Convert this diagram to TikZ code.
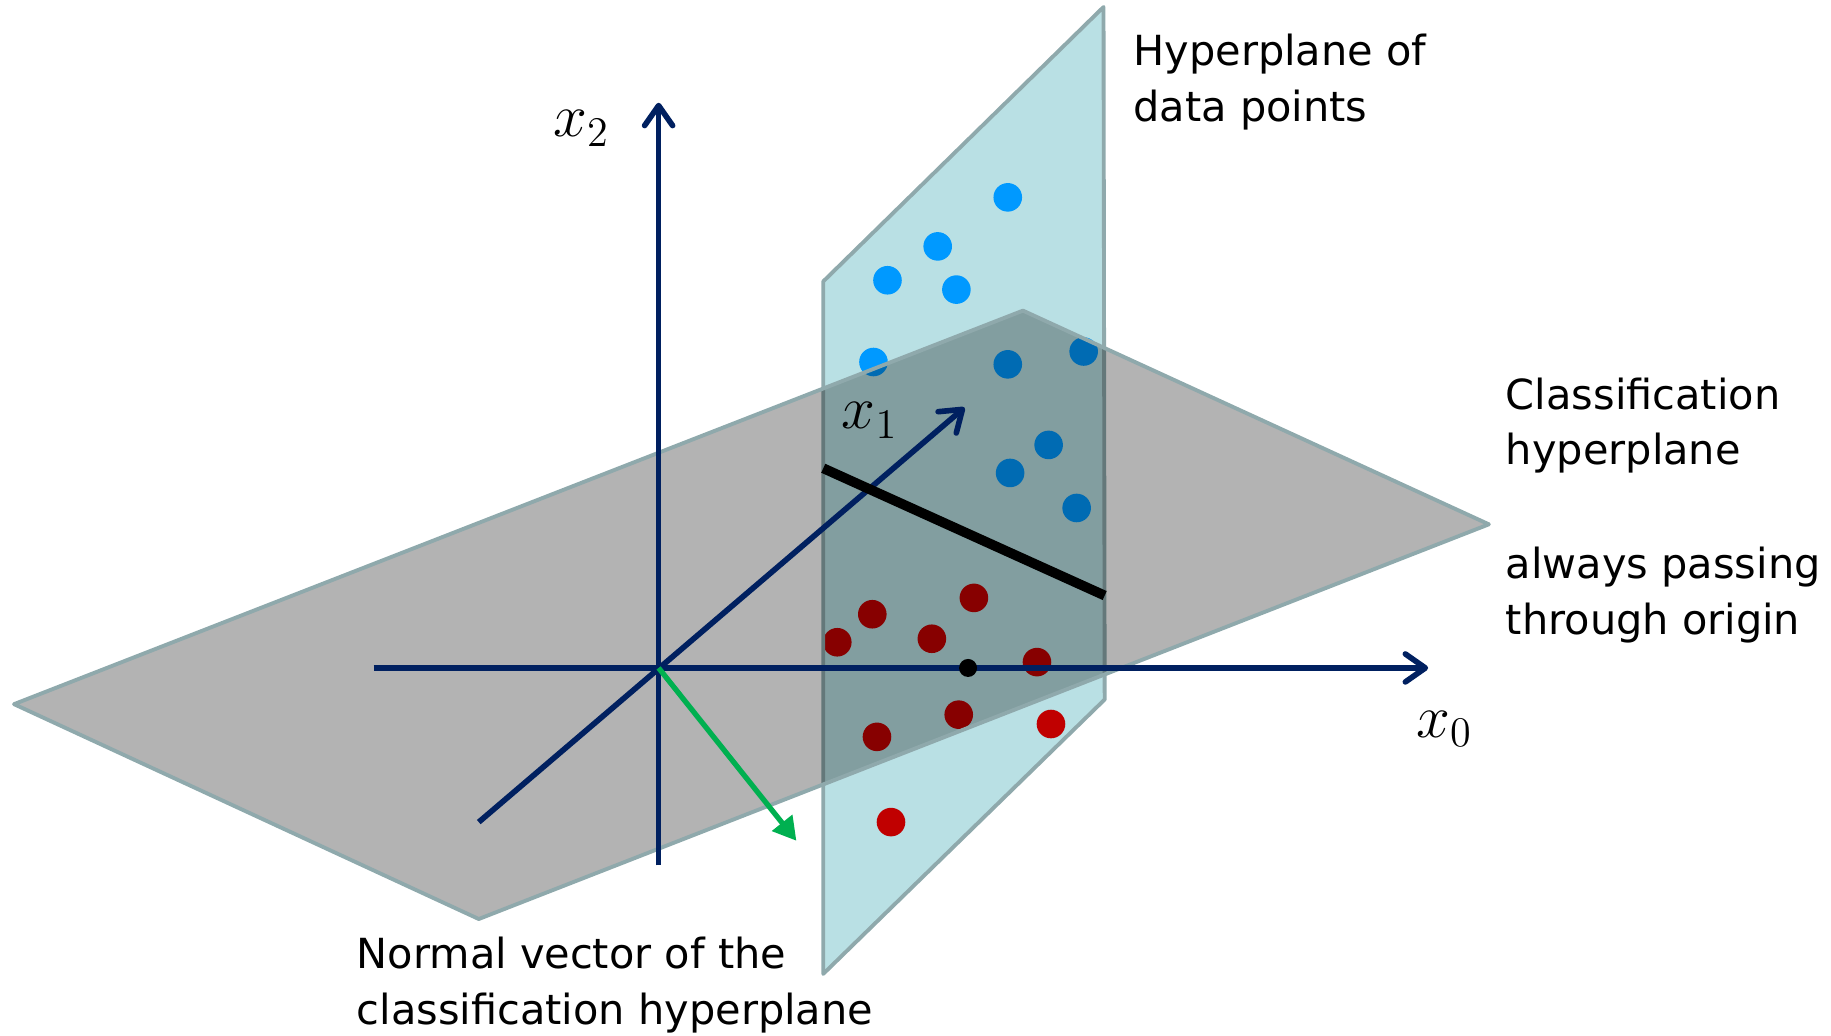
\documentclass[tikz,border=0pt]{standalone}
\usepackage{fontspec}
\setmainfont{DejaVu Sans}
\usepackage{tikz}
\usetikzlibrary{arrows.meta}

\definecolor{axisnavy}{RGB}{0,32,96}
\definecolor{planeblue}{RGB}{185,224,228}
\definecolor{planegray}{RGB}{179,179,179}
\definecolor{planeedge}{RGB}{143,169,172}
\definecolor{overlapgray}{RGB}{130,158,160}
\definecolor{overlapedge}{RGB}{100,120,122}
\definecolor{dotblue}{RGB}{0,153,255}
\definecolor{dotbluedark}{RGB}{0,107,179}
\definecolor{dotred}{RGB}{192,0,0}
\definecolor{dotreddark}{RGB}{135,0,0}
\definecolor{normalgreen}{RGB}{0,176,80}

% data points (x/y in picture units)
\newcommand{\upperdots}{863/169,803/211,760/240,819/248,748/310,863/312,928/301,898/381,865/405,922/435}
\newcommand{\lowerdots}{747/526,717/550,798/547,834/512,888/567,821/612,751/631,900/620,763/704}

\tikzset{
  plane edge/.style={draw=planeedge,line width=1.1pt,line join=round},
  axis/.style={axisnavy,line width=1.6pt},
  axis arrow/.style={axis,-{Straight Barb[length=2mm,width=2.8mm,round]}},
  normal arrow/.style={normalgreen,line width=1.5pt,-{Triangle[length=2.3mm,width=2.5mm]}},
  datadot/.style={radius=1.43mm},
  caption/.style={align=left,anchor=base west,inner sep=0pt,font=\fontsize{11.8}{15.8}\selectfont},
  axis label/.style={font=\fontsize{16.5}{19}\selectfont,inner sep=0pt}
}

\begin{document}
\begin{tikzpicture}[x=0.11677mm,y=-0.11677mm]
			\useasboundingbox (0,0) rectangle (1568,887);
			% corners of the two planes
			\coordinate (d1) at (705,241);
			\coordinate (d2) at (945,6);
			\coordinate (d3) at (946,599);
			\coordinate (d4) at (705,834);
			\coordinate (c1) at (12,603);
			\coordinate (c2) at (876,266);
			\coordinate (c3) at (1275,449);
			\coordinate (c4) at (410,787);
			% hyperplane of the data points
			\fill[planeblue] (d1) -- (d2) -- (d3) -- (d4) -- cycle;
			\foreach \x/\y in \upperdots \fill[dotblue] (\x,\y) circle[datadot];
			\foreach \x/\y in \lowerdots \fill[dotred] (\x,\y) circle[datadot];
			\draw[plane edge] (d1) -- (d2) -- (d3) -- (d4) -- cycle;
			% classification hyperplane
			\fill[planegray] (c1) -- (c2) -- (c3) -- (c4) -- cycle;
			% part of the data plane seen through it
			\begin{scope}
				\clip (c1) -- (c2) -- (c3) -- (c4) -- cycle;
				\fill[overlapgray] (d1) -- (d2) -- (d3) -- (d4) -- cycle;
				\foreach \x/\y in \upperdots \fill[dotbluedark] (\x,\y) circle[datadot];
				\foreach \x/\y in \lowerdots \fill[dotreddark] (\x,\y) circle[datadot];
				\draw[plane edge,draw=overlapedge] (d1) -- (d2) -- (d3) -- (d4) -- cycle;
			\end{scope}
			\draw[plane edge] (c1) -- (c2) -- (c3) -- (c4) -- cycle;
			% axes
			\coordinate (O) at (564,572);
			\coordinate (x0a) at (320,572);
			\coordinate (x0b) at (1223,572);
			\coordinate (x1a) at (410,704);
			\coordinate (x1b) at (826,349);
			\coordinate (x2a) at (564,741);
			\coordinate (x2b) at (564,88);
			\draw[axis arrow] (x0a) -- (x0b);
			\draw[axis arrow] (x2a) -- (x2b);
			\draw[axis arrow] (x1a) -- (x1b);
			% trace of the classification hyperplane
			\coordinate (h1) at (705,401);
			\coordinate (h2) at (946,510);
			\draw[line width=2.8pt] (h1) -- (h2);
			\coordinate (p) at (829,572);
			\fill (p) circle[radius=0.9mm];
			% normal vector
			\coordinate (n) at (682,720);
			\draw[normal arrow] (O) -- (n);
			% labels
			\node[axis label] (lx2) at (498,110) {$x_2$};
			\node[axis label] (lx1) at (745,360) {$x_1$};
			\node[axis label] (lx0) at (1237,624) {$x_0$};
			\node[caption] (tdata) at (970,104) {Hyperplane of\\data points};
			\node[caption] (tclass) at (1289,398) {Classification\\hyperplane};
			\node[caption] (torigin) at (1289,543) {always passing\\through origin};
			\node[caption] (tnormal) at (305,877) {Normal vector of the\\classification hyperplane};
		\end{tikzpicture}
\end{document}
